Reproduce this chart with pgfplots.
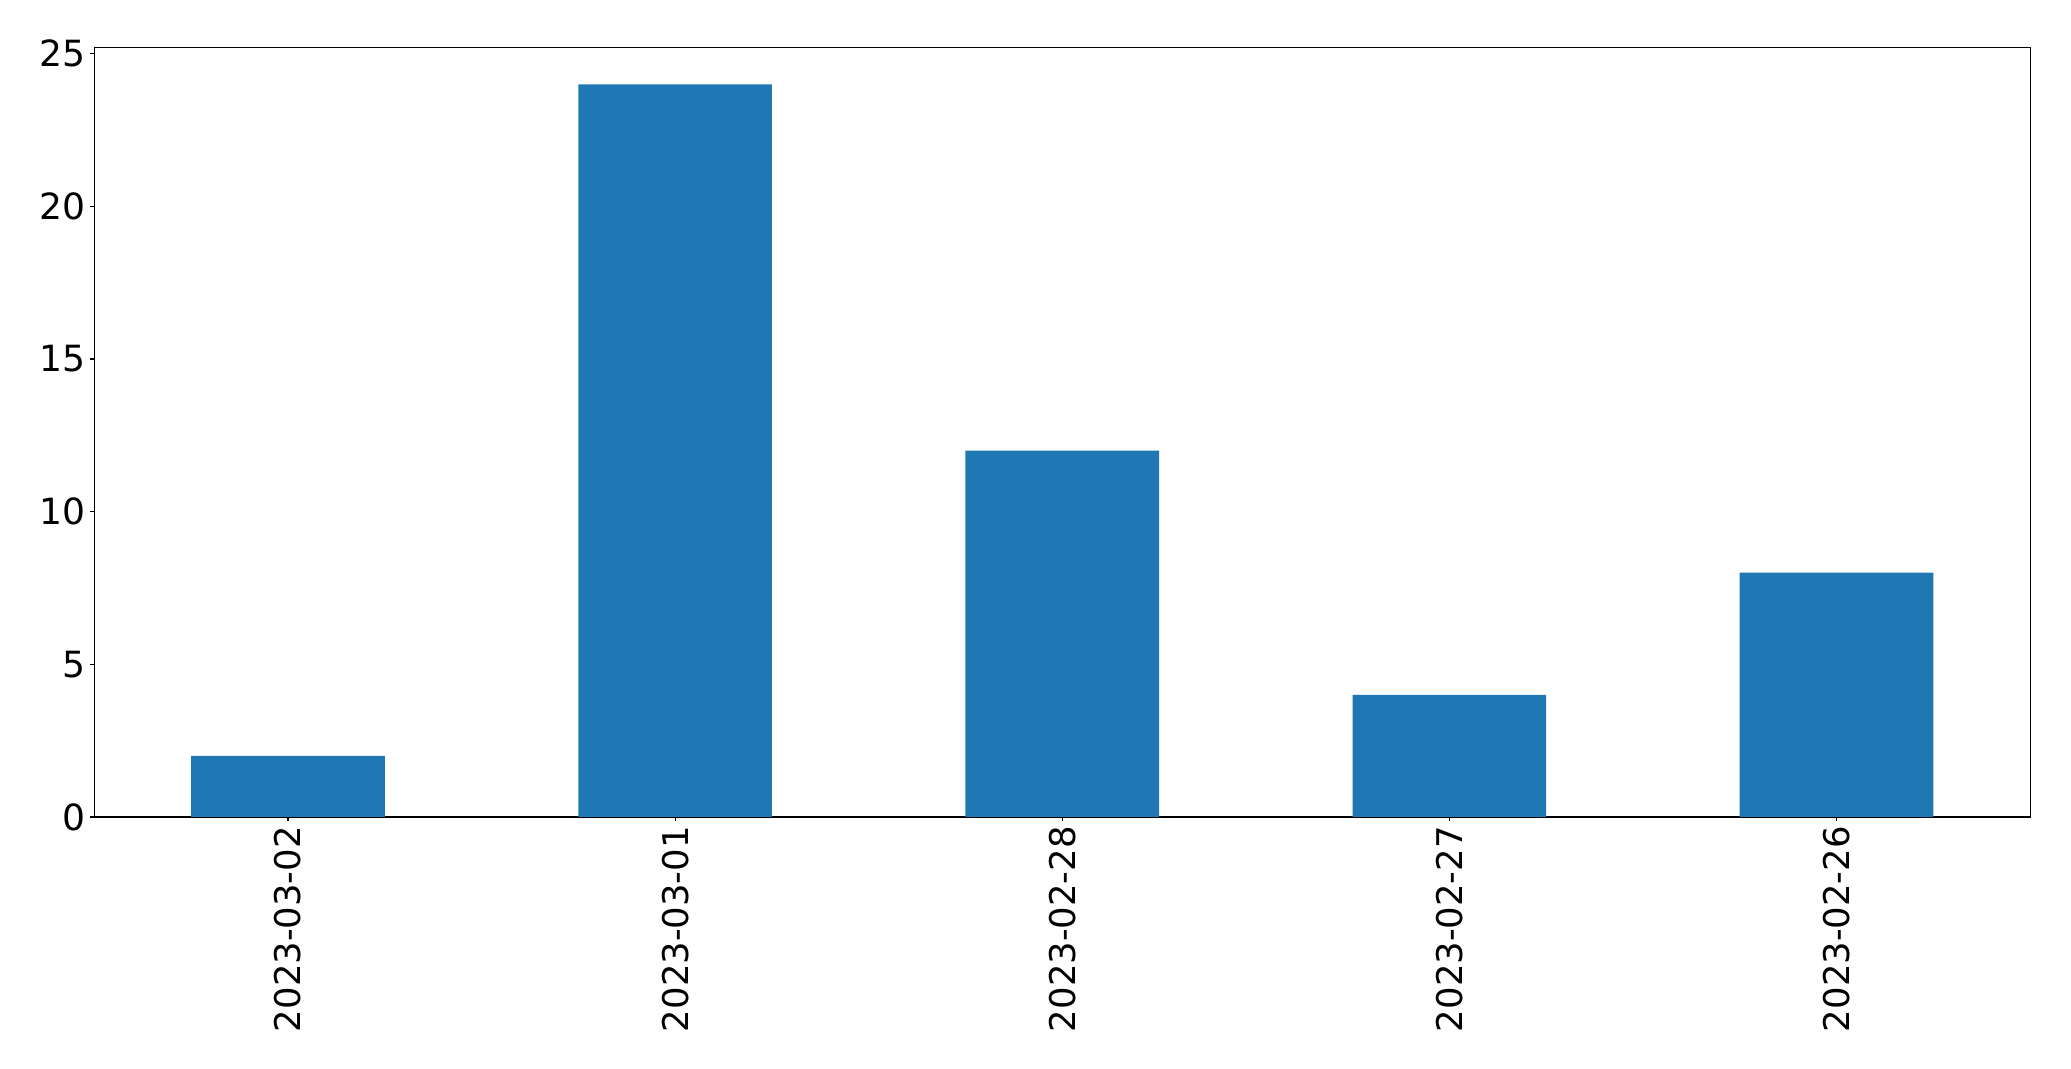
\documentclass[border=0pt]{standalone}
\usepackage{pgfplots}
\pgfplotsset{compat=1.18}
\usepackage{fontspec}
\setmainfont{DejaVu Sans}
\usetikzlibrary{calc}
\definecolor{mplblue}{HTML}{1F77B4}
\begin{document}
\begin{tikzpicture}
\begin{axis}[
  name=ax,
  scale only axis,
  width=1393.6pt, height=553.9pt,
  xmin=-0.5, xmax=4.5,
  ymin=0, ymax=25.2,
  xtick={0,1,2,3,4},
  xticklabels={2023-03-02,2023-03-01,2023-02-28,2023-02-27,2023-02-26},
  x tick label style={rotate=90, anchor=east, font=\fontsize{25.5}{30}\selectfont},
  ytick={0,5,10,15,20,25},
  y tick label style={font=\fontsize{26}{30}\selectfont},
  /pgf/number format/assume math mode=true,
  tick align=outside,
  major tick length=3.1pt,
  tick style={black, line width=0.8pt},
  xtick pos=bottom, ytick pos=left,
  axis line style={line width=0.8pt},
  clip=false,
]
\addplot[ybar, bar width=0.5, fill=mplblue, draw=none] coordinates {
  (0,2) (1,24) (2,12) (3,4) (4,8)
};
\end{axis}
\path[use as bounding box] ($(ax.south west)+(-68.0pt,-181.4pt)$) rectangle ($(ax.north east)+(29.5pt,34.3pt)$);
\end{tikzpicture}
\end{document}
